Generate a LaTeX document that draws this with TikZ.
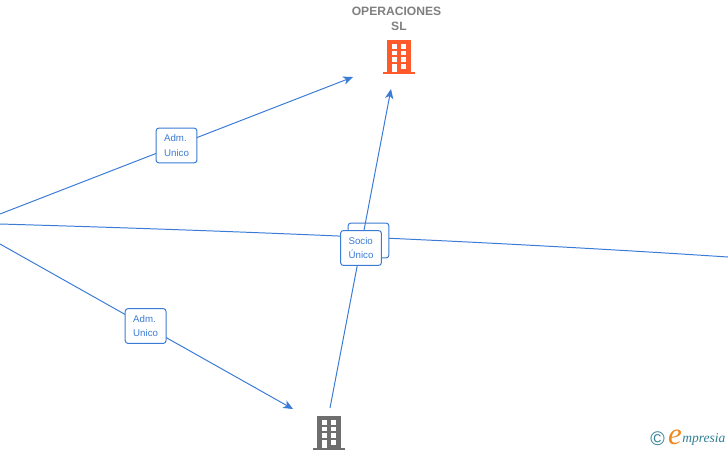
\documentclass[tikz,border=0pt]{standalone}
\usepackage{fontspec}
\setmainfont{Liberation Sans}
\newfontfamily\logofont{Liberation Serif}
\usetikzlibrary{arrows.meta,positioning}
\definecolor{linkblue}{HTML}{3A7BD5}
\definecolor{titlegray}{HTML}{7F7F7F}
\definecolor{orangeb}{HTML}{FF5A2B}
\definecolor{grayb}{HTML}{6E6E6E}
\definecolor{logoteal}{HTML}{2F7F93}
\definecolor{logoorange}{HTML}{F08A1D}
\tikzset{
  link/.style={draw=linkblue, line width=0.7pt},
  arr/.style={link, -{Stealth[length=7pt,width=6pt,inset=2pt]}},
  role/.style={draw=linkblue, line width=0.7pt, rounded corners=2pt, fill=white, align=left,
    text=linkblue, font=\fontsize{6.9}{10.6}\selectfont, minimum width=29pt, minimum height=24.8pt,
    inner sep=0pt},
  title/.style={text=titlegray, align=center, font=\fontsize{8.6}{10.6}\selectfont\bfseries},
  building/.pic={
    \fill[#1] (-12,-34) rectangle (12,-1);
    \fill[#1] (-16,-2) rectangle (16,0);
    \foreach \yy in {-30,-23.4,-16.8}{
      \fill[white] (-6.7,\yy) rectangle (-1.7,\yy+4.6);
      \fill[white] (2,\yy) rectangle (7,\yy+4.6);
    }
    \fill[white] (-6.7,-10.5) rectangle (-1.7,-2);
    \fill[white] (2,-10.5) rectangle (7,-5.5);
  }
}
\begin{document}
\begin{tikzpicture}[x=0.025cm,y=-0.025cm]
  \useasboundingbox (0,0) rectangle (728,450);

  \coordinate (upstart) at (0,214);
  \coordinate (upend) at (353,77);
  \coordinate (downstart) at (0,244);
  \coordinate (downend) at (293,409);
  \coordinate (crossstart) at (0,224);
  \coordinate (crossend) at (728,257);
  \coordinate (risestart) at (330,408);
  \coordinate (riseend) at (391,89);

  \node[title] (opname) at (396.5,18.5) {OPERACIONES\\\hspace{3.5pt}SL};
  \pic at (399,74) {building={orangeb}};
  \pic at (328.5,450) {building={grayb}};

  \draw[arr] (upstart) -- node[role] (admup) {Adm.\\Unico} (upend);
  \draw[arr] (downstart) -- node[role, pos=0.497] (admdown) {Adm.\\Unico} (downend);

  \draw[link] (crossstart) .. controls (243,231) and (485,241) .. (crossend);
  \node[role] (emptycross) at (368.5,240.5) {};
  \draw[arr] (risestart) -- (riseend);
  \node[role] (sociorise) at (361,248) {Socio\\Único};

  % logo
  \node[text=logoteal, font=\fontsize{14}{14}\selectfont, inner sep=0pt] (logoc) at (657.5,439) {\textcopyright};
  \node[text=logoorange, font=\logofont\itshape\fontsize{22}{22}\selectfont, inner sep=0pt] (logoe) at (675,437) {e};
  \node[text=logoteal, font=\logofont\itshape\fontsize{9.6}{10}\selectfont, inner sep=0pt, anchor=west] (logotext) at (682,439) {mpresia};
\end{tikzpicture}
\end{document}
